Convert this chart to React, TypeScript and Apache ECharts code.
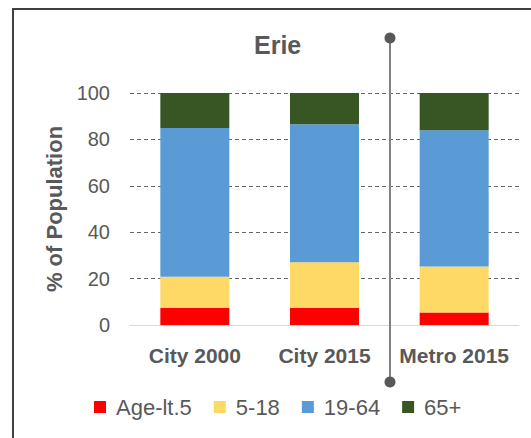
import React, { useEffect, useRef } from "react";
import * as echarts from "echarts";

const categories = ["City 2000", "City 2015", "Metro 2015"];
const ageLt5 = [7.4, 7.3, 5.4];
const age5to18 = [13.4, 19.8, 19.8];
const age19to64 = [64.1, 59.4, 58.7];
const age65plus = [15.1, 13.5, 16.1];
const seriesNames = ["Age-lt.5", "5-18", "19-64", "65+"];
const seriesColors = ["#FF0000", "#FFD966", "#5B9BD5", "#375623"];
const yTicks = { min: 0, max: 100, interval: 20 };

const FONT = "'Liberation Sans', Arial, sans-serif";
const TEXT = "#595959";

export default function App() {
  const ref = useRef<HTMLDivElement>(null);
  useEffect(() => {
    if (!ref.current) return;
    const chart = echarts.init(ref.current, null, { renderer: "svg" });
    const values = [ageLt5, age5to18, age19to64, age65plus];
    chart.setOption({
      animation: false,
      backgroundColor: "#ffffff",
      textStyle: { fontFamily: FONT },
      title: {
        text: "Erie",
        left: 254,
        top: 32,
        padding: 0,
        textStyle: { fontFamily: FONT, fontSize: 25, fontWeight: "bold", color: TEXT },
      },
      grid: { left: 130, right: 12, top: 93, bottom: 113, containLabel: false },
      legend: {
        left: 94,
        top: 396,
        padding: 0,
        itemWidth: 12,
        itemHeight: 12,
        itemGap: 22,
        icon: "rect",
        data: seriesNames,
        textStyle: { fontFamily: FONT, fontSize: 22, color: TEXT, padding: [0, 0, 0, 5] },
      },
      xAxis: {
        type: "category",
        data: categories,
        axisLine: { show: true, lineStyle: { color: "#D9D9D9", width: 1 } },
        axisTick: { show: false },
        axisLabel: {
          interval: 0,
          fontFamily: FONT,
          fontSize: 21,
          fontWeight: "bold",
          color: TEXT,
          margin: 20,
        },
      },
      yAxis: {
        type: "value",
        min: yTicks.min,
        max: yTicks.max,
        interval: yTicks.interval,
        name: "% of Population",
        nameLocation: "middle",
        nameRotate: 90,
        nameGap: 65,
        nameTextStyle: { fontFamily: FONT, fontSize: 22, fontWeight: "bold", color: TEXT },
        axisLine: { show: false },
        axisTick: { show: false },
        axisLabel: { fontFamily: FONT, fontSize: 20, color: TEXT, margin: 20 },
        splitLine: { show: true, lineStyle: { color: "#666666", width: 1, type: [4, 3] } },
      },
      series: seriesNames.map((name, i) => ({
        name,
        type: "bar",
        stack: "total",
        barWidth: 69,
        data: values[i],
        itemStyle: { color: seriesColors[i] },
      })),
      graphic: [
        {
          type: "rect",
          shape: { x: 13, y: 9, width: 600, height: 500 },
          style: { fill: "none", stroke: "#404040", lineWidth: 2 },
          silent: true,
        },
        {
          type: "line",
          shape: { x1: 390, y1: 38, x2: 390, y2: 382 },
          style: { stroke: "#808080", lineWidth: 2 },
          z: 100,
        },
        {
          type: "circle",
          shape: { cx: 390, cy: 38, r: 5.5 },
          style: { fill: "#595959" },
          z: 101,
        },
        {
          type: "circle",
          shape: { cx: 390, cy: 382, r: 5.5 },
          style: { fill: "#595959" },
          z: 101,
        },
      ],
    });
    return () => chart.dispose();
  }, []);
  return (
    <div
      ref={ref}
      style={{ position: "fixed", left: 0, top: 0, width: 531, height: 438 }}
    />
  );
}
